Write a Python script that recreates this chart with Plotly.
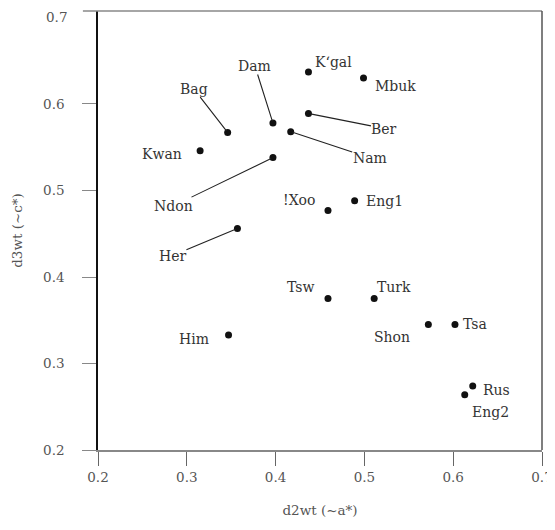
import plotly.graph_objects as go

# ---- data ----
labels = ["K‘gal", "Mbuk", "Dam", "Ber", "Nam", "Bag", "Kwan", "Ndon", "Eng1",
          "!Xoo", "Her", "Tsw", "Turk", "Shon", "Tsa", "Him", "Rus", "Eng2"]
d2wt = [0.437, 0.499, 0.397, 0.437, 0.417, 0.346, 0.315, 0.397, 0.489,
        0.459, 0.357, 0.459, 0.511, 0.572, 0.602, 0.347, 0.622, 0.613]
d3wt = [0.637, 0.630, 0.578, 0.589, 0.568, 0.567, 0.546, 0.538, 0.488,
        0.477, 0.456, 0.375, 0.375, 0.345, 0.345, 0.333, 0.274, 0.264]
x_tick_vals = [0.2, 0.3, 0.4, 0.5, 0.6, 0.7]
x_tick_text = ["0.2", "0.3", "0.4", "0.5", "0.6", "0.7"]
y_tick_vals = [0.2, 0.3, 0.4, 0.5, 0.6]
y_tick_text = ["0.2", "0.3", "0.4", "0.5", "0.6"]
y_top_val = 0.7
y_top_text = "0.7"

# label placement (pixel offsets from the point) and whether a leader line is drawn
label_style = {
    "K‘gal": (25, -10, False), "Mbuk": (32, 8, False), "Dam": (-18, -57, True),
    "Ber": (76, 15, True), "Nam": (79, 26, True), "Bag": (-34, -44, True),
    "Kwan": (-38, 3, False), "Ndon": (-99, 48, True), "Eng1": (30, 0, False),
    "!Xoo": (-29, -10, False), "Her": (-65, 27, True), "Tsw": (-27, -12, False),
    "Turk": (20, -12, False), "Shon": (-36, 12, False), "Tsa": (20, -1, False),
    "Him": (-35, 4, False), "Rus": (24, 4, False), "Eng2": (26, 17, False),
}

FONT = "DejaVu Serif"
TICKFONT = dict(family=FONT, size=13.5, color="#555555")

fig = go.Figure()
fig.add_trace(go.Scatter(
    x=d2wt, y=d3wt, mode="markers",
    marker=dict(size=7, color="#111111"),
    hoverinfo="text", text=labels, showlegend=False,
))

annotations = []
for lab, xv, yv in zip(labels, d2wt, d3wt):
    ax, ay, line = label_style[lab]
    annotations.append(dict(
        x=xv, y=yv, xref="x", yref="y", text=lab,
        showarrow=True, ax=ax, ay=ay, arrowhead=0, arrowwidth=1.1,
        arrowcolor="#222222" if line else "rgba(0,0,0,0)",
        standoff=2, startstandoff=0,
        font=dict(family=FONT, size=14, color="#333333"),
        borderpad=0,
    ))
# top y label (no tick mark drawn there in the original)
annotations.append(dict(
    x=-29 / 444, xref="paper", y=y_top_val, yref="y", text=y_top_text,
    showarrow=False, xanchor="right", yanchor="middle", font=TICKFONT,
))

fig.update_layout(
    width=547, height=514,
    margin=dict(l=90, r=13, t=3, b=72),
    paper_bgcolor="white", plot_bgcolor="white",
    font=dict(family=FONT, color="#555555"),
    annotations=annotations,
    xaxis=dict(
        range=[0.2, 0.7], tickvals=x_tick_vals, ticktext=x_tick_text,
        ticks="outside", ticklen=14, tickwidth=1.3, tickcolor="#666666",
        showline=True, linecolor="#888888", linewidth=1.5,
        showgrid=False, zeroline=False, automargin=False,
        tickfont=TICKFONT,
        title=dict(text="d2wt (~a*)", font=TICKFONT, standoff=22),
    ),
    yaxis=dict(
        range=[0.2, 0.7075], tickvals=y_tick_vals, ticktext=y_tick_text,
        ticks="outside", ticklen=14, tickwidth=1.3, tickcolor="#888888",
        showline=True, linecolor="#111111", linewidth=1.5,
        showgrid=False, zeroline=False, ticklabelstandoff=15, automargin=False,
        tickfont=TICKFONT,
        title=dict(text="d3wt (~c*)", font=TICKFONT, standoff=17),
    ),
    shapes=[
        dict(type="line", xref="paper", yref="paper", x0=-0.034, x1=1.0, y0=1, y1=1,
             line=dict(color="#888888", width=1.5)),
        dict(type="line", xref="paper", yref="paper", x0=1, x1=1, y0=0, y1=1,
             line=dict(color="#555555", width=1.5)),
    ],
)

fig.write_html("out.html")
